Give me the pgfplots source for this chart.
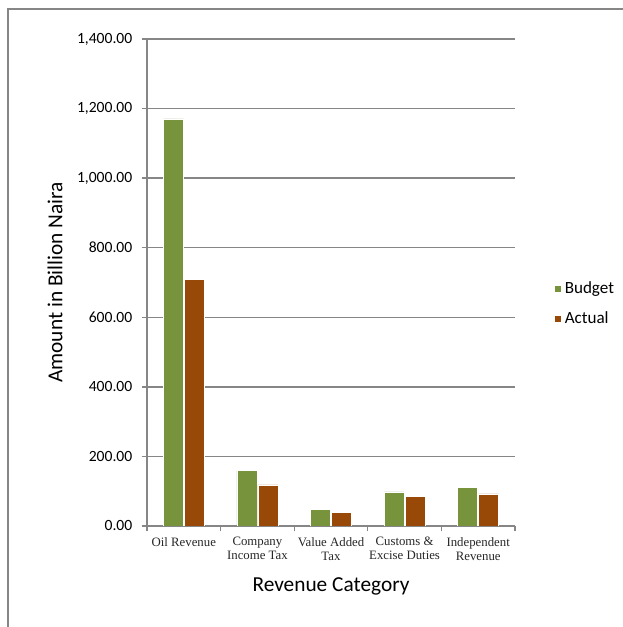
\documentclass[border=0pt]{standalone}
\usepackage{pgfplots}
\pgfplotsset{compat=1.18}
\usepackage{fontspec}
\setmainfont{Carlito}
\newfontfamily\serifcat{Liberation Serif}
\definecolor{budget}{HTML}{77933C}
\definecolor{actual}{HTML}{984807}
\definecolor{axgray}{HTML}{868686}
\begin{document}
\begin{tikzpicture}[x=1pt,y=1pt]
\useasboundingbox (0,0) rectangle (467.25,470.25);
\draw[axgray, line width=1pt] (6,0) -- (6,463.5) -- (470,463.5);
\begin{axis}[
  at={(110.25pt,75.75pt)}, anchor=south west,
  scale only axis, width=276pt, height=365.25pt,
  ymin=0, ymax=1400, ytick={0,200,...,1400},
  xmin=-0.5, xmax=4.5,
  xtick={0,1,2,3,4},
  xticklabels={Oil Revenue,{Company\\Income Tax},{Value Added\\Tax},{Customs \&\\Excise Duties},{Independent\\Revenue}},
  xticklabel style={font=\serifcat\fontsize{9.6}{10.5}\selectfont, align=center, text=black!85, yshift=-1pt},
  major x tick style={draw=none},
  minor xtick={-0.5,0.5,...,4.5},
  minor x tick style={axgray, line width=1pt},
  minor tick length=4pt,
  tick align=outside,
  major tick length=4pt,
  ytick style={axgray, line width=1pt},
  axis x line*=bottom, axis y line*=left,
  axis line style={axgray, line width=1pt, -},
  ymajorgrids, grid style={axgray, line width=1pt},
  yticklabel style={font=\fontsize{11.7}{13}\selectfont, text=black, xshift=-3.5pt},
  /pgf/number format/assume math mode=true,
  /pgf/number format/.cd, fixed, fixed zerofill, precision=2, 1000 sep={,}, /pgfplots/.cd,
  ylabel={Amount in Billion Naira},
  ylabel style={at={(axis description cs:-0.25,0.5)}, anchor=center, font=\fontsize{16}{18}\selectfont},
  xlabel={Revenue Category},
  xlabel style={at={(axis description cs:0.5,-0.1232)}, anchor=center, font=\fontsize{16}{18}\selectfont},
  ybar=0.75pt, bar width=15pt,
  legend style={at={(axis description cs:1.095,0.456)}, anchor=west, draw=none, fill=none,
    font=\fontsize{12.8}{14}\selectfont, row sep=8pt},
  legend cell align=left,
  legend image code/.code={\fill[#1] (0pt,-2.6pt) rectangle (5.4pt,2.8pt);},
]
\addplot[fill=budget, draw=white, line width=0.5pt] coordinates {(0,1170) (1,159) (2,47) (3,98) (4,112)};
\addplot[fill=actual, draw=white, line width=0.5pt] coordinates {(0,710) (1,118) (2,38) (3,84) (4,92)};
\legend{Budget, Actual}
\end{axis}
\end{tikzpicture}
\end{document}
